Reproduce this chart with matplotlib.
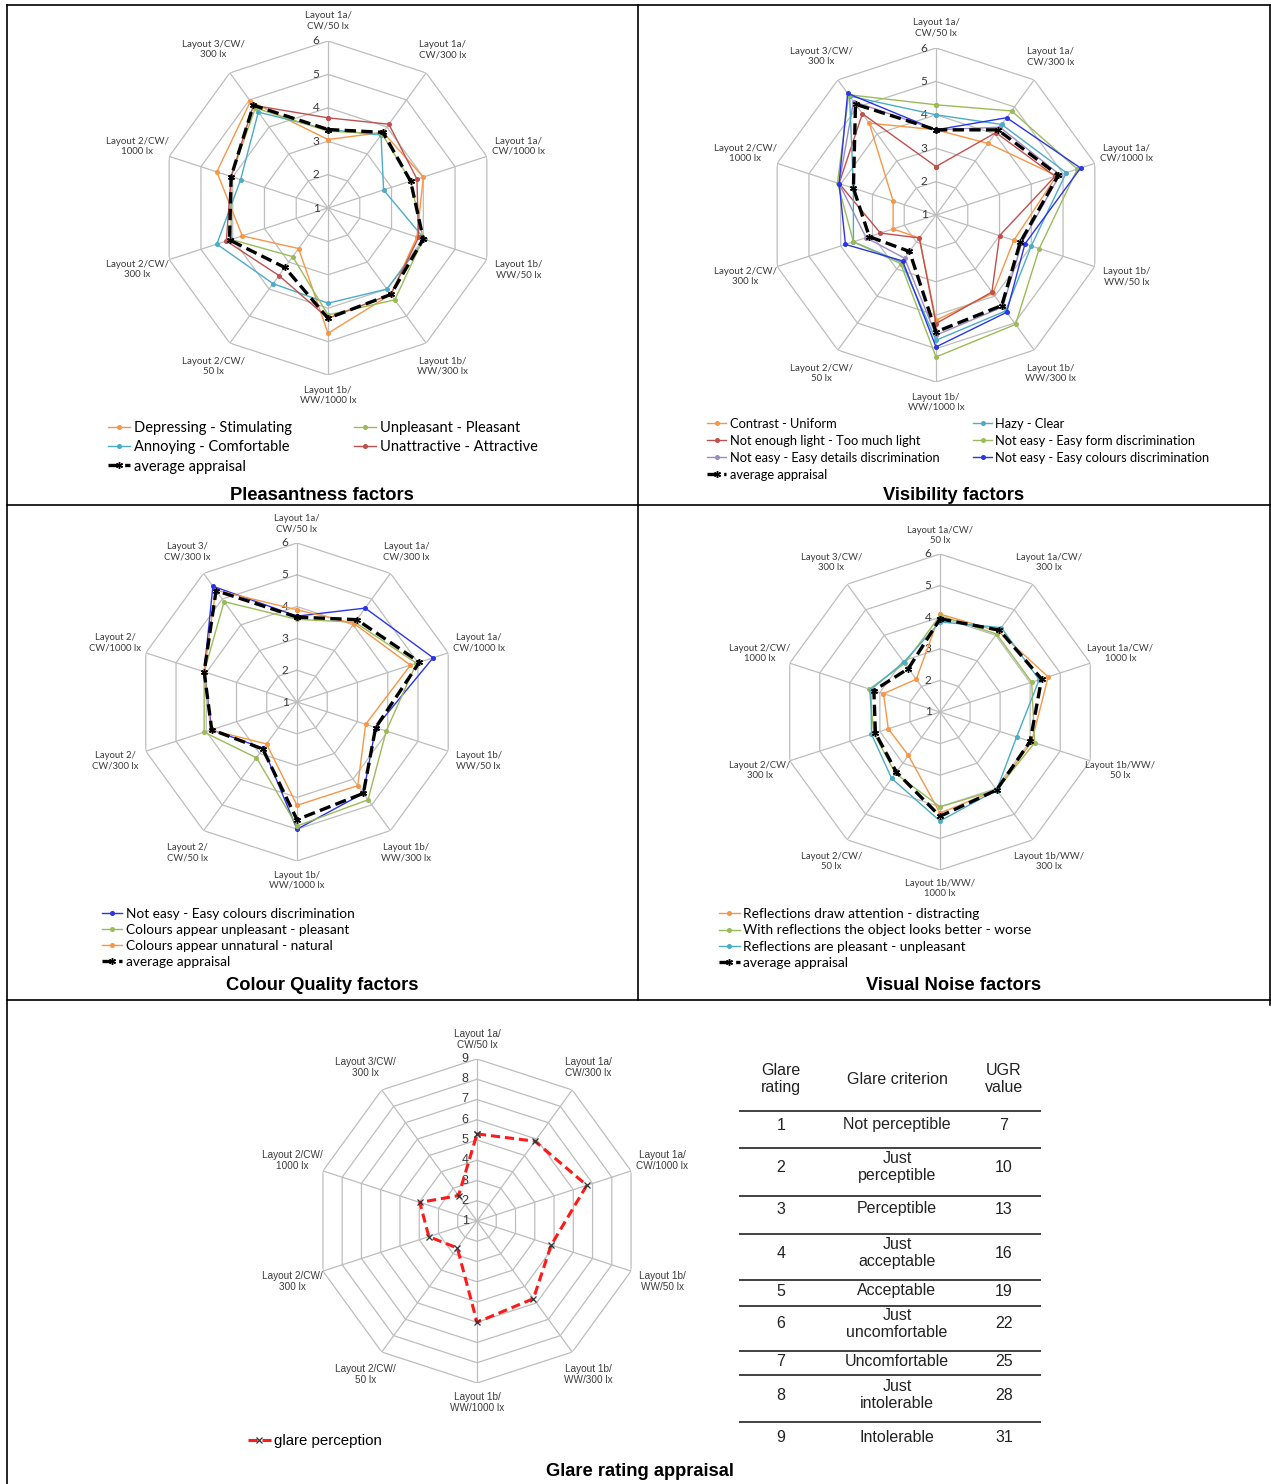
#!/usr/bin/env python3
"""Radar charts of subjective lighting appraisals plus the glare rating scale."""

import matplotlib
matplotlib.use('Agg')
import matplotlib.pyplot as plt
import numpy as np

W, H = 1271, 1484

# Lighting scenes, clockwise from the top of each radar
SCENES = ['Layout 1a/\nCW/50 lx', 'Layout 1a/\nCW/300 lx', 'Layout 1a/\nCW/1000 lx',
          'Layout 1b/\nWW/50 lx', 'Layout 1b/\nWW/300 lx', 'Layout 1b/\nWW/1000 lx',
          'Layout 2/CW/\n50 lx', 'Layout 2/CW/\n300 lx', 'Layout 2/CW/\n1000 lx',
          'Layout 3/CW/\n300 lx']
SCENES_CQ = ['Layout 1a/\nCW/50 lx', 'Layout 1a/\nCW/300 lx', 'Layout 1a/\nCW/1000 lx',
             'Layout 1b/\nWW/50 lx', 'Layout 1b/\nWW/300 lx', 'Layout 1b/\nWW/1000 lx',
             'Layout 2/\nCW/50 lx', 'Layout 2/\nCW/300 lx', 'Layout 2/\nCW/1000 lx',
             'Layout 3/\nCW/300 lx']
SCENES_VN = ['Layout 1a/CW/\n50 lx', 'Layout 1a/CW/\n300 lx', 'Layout 1a/CW/\n1000 lx',
             'Layout 1b/WW/\n50 lx', 'Layout 1b/WW/\n300 lx', 'Layout 1b/WW/\n1000 lx',
             'Layout 2/CW/\n50 lx', 'Layout 2/CW/\n300 lx', 'Layout 2/CW/\n1000 lx',
             'Layout 3/CW/\n300 lx']

# Pleasantness factors
pleas_stimulating = [3.05, 3.8, 4.0, 3.8, 4.2, 4.75, 2.5, 3.7, 4.5, 4.95]
pleas_comfortable = [3.35, 3.7, 2.75, 4.05, 4.0, 3.85, 3.8, 4.5, 3.75, 4.55]
pleas_pleasant = [3.3, 3.75, 3.6, 4.0, 4.4, 4.2, 2.8, 4.05, 4.05, 4.7]
pleas_attractive = [3.7, 4.1, 3.8, 3.85, 4.2, 4.3, 3.5, 4.2, 4.05, 4.8]
pleas_average = [3.35, 3.8, 3.6, 4.0, 4.2, 4.3, 3.2, 4.1, 4.05, 4.8]

# Visibility factors
vis_uniform = [3.55, 3.65, 4.8, 3.45, 3.9, 4.15, 1.85, 2.35, 2.35, 4.4]
vis_light = [2.45, 4.05, 4.75, 3.0, 3.85, 4.25, 1.85, 2.75, 4.05, 4.75]
vis_details = [3.55, 4.25, 4.9, 3.7, 4.4, 4.6, 2.6, 3.2, 4.05, 5.2]
vis_clear = [4.0, 4.35, 5.1, 4.0, 4.55, 4.75, 2.75, 3.6, 3.6, 5.4]
vis_form = [4.3, 4.85, 5.45, 4.25, 5.05, 5.25, 2.8, 3.6, 4.1, 5.45]
vis_colours = [3.55, 4.6, 5.55, 3.8, 4.6, 4.95, 2.7, 3.85, 4.05, 5.5]
vis_average = [3.55, 4.15, 4.85, 3.65, 4.35, 4.5, 2.35, 3.1, 3.6, 5.1]

# Colour quality factors
cq_colours = [3.7, 4.65, 5.5, 3.6, 4.55, 5.0, 2.8, 3.82, 4.07, 5.5]
cq_pleasant = [3.6, 4.1, 4.95, 3.95, 4.8, 4.9, 3.17, 4.07, 4.07, 4.9]
cq_natural = [3.9, 4.05, 4.75, 3.27, 4.25, 4.25, 2.63, 3.85, 4.07, 5.35]
cq_average = [3.67, 4.2, 5.05, 3.6, 4.55, 4.7, 2.83, 3.82, 4.07, 5.33]

# Visual noise factors
vn_distracting = [4.1, 4.15, 4.6, 4.05, 4.05, 4.2, 2.7, 2.72, 2.88, 2.28]
vn_worse = [4.05, 4.05, 4.05, 4.15, 4.05, 4.0, 3.4, 3.2, 3.35, 2.9]
vn_unpleasant = [3.85, 4.3, 4.3, 3.55, 4.05, 4.45, 3.6, 3.28, 3.3, 2.95]
vn_average = [3.95, 4.2, 4.38, 4.0, 4.05, 4.3, 3.35, 3.15, 3.2, 2.7]

# Glare perception (1-9 scale)
glare_perception = [5.3, 5.87, 6.7, 4.85, 5.74, 6.0, 2.65, 3.5, 3.97, 2.55]

# Glare rating scale
glare_rating = [1, 2, 3, 4, 5, 6, 7, 8, 9]
glare_criterion = ['Not perceptible', 'Just\nperceptible', 'Perceptible',
                   'Just\nacceptable', 'Acceptable', 'Just\nuncomfortable',
                   'Uncomfortable', 'Just\nintolerable', 'Intolerable']
ugr_value = [7, 10, 13, 16, 19, 22, 25, 28, 31]

ORANGE = '#F79646'
RED = '#C0504D'
GREEN = '#9BBB59'
CYAN = '#4BACC6'
PURPLE = '#9D8BC4'
BLUE = '#2B35E6'
GRID = '#BDBDBD'
TEXT = '#3A3A3A'
XL_FONT = ['Lato', 'DejaVu Sans']
AR_FONT = ['Liberation Sans', 'DejaVu Sans']

fig = plt.figure(figsize=(W / 100, H / 100), dpi=100)

canvas = fig.add_axes([0, 0, 1, 1])
canvas.set_xlim(0, W)
canvas.set_ylim(H, 0)
canvas.axis('off')


def radar(cx, cy, radius, labels, rmax, font, label_size, tick_size):
    """Polar axes with a decagon grid centred at pixel (cx, cy)."""
    rect = [(cx - radius) / W, 1 - (cy + radius) / H, 2 * radius / W, 2 * radius / H]
    ax = fig.add_axes(rect, projection='polar')
    n = len(labels)
    theta = np.linspace(0, 2 * np.pi, n, endpoint=False)
    ax.set_theta_zero_location('N')
    ax.set_theta_direction(-1)
    ax.set_ylim(1, rmax)
    ax.grid(False)
    ax.set_xticks([])
    ax.set_yticks([])
    ax.spines['polar'].set_visible(False)
    ax.patch.set_visible(False)

    closed = np.append(theta, theta[0])
    for v in range(2, rmax + 1):
        ax.plot(closed, [v] * (n + 1), color=GRID, lw=0.9, zorder=1)
    for t in theta:
        ax.plot([t, t], [1, rmax], color=GRID, lw=0.9, zorder=1)

    for v in range(1, rmax + 1):
        ax.annotate(str(v), xy=(0, v), xytext=(-6, 0), textcoords='offset points',
                    ha='right', va='center', fontsize=tick_size, color=TEXT,
                    family=font, zorder=2)

    span = rmax - 1
    for t, lab in zip(theta, labels):
        frac = 1.12 + 0.085 * abs(np.sin(t))
        ax.text(t, 1 + span * frac, lab, ha='center', va='center',
                fontsize=label_size, color=TEXT, family=font, linespacing=1.15)
    ax._theta = closed
    return ax


def series(ax, values, color, label):
    v = list(values) + [values[0]]
    ln, = ax.plot(ax._theta, v, color=color, lw=1.0, marker='o', ms=2.6,
                  zorder=3, label=label)
    return ln


def average(ax, values, label='average appraisal'):
    v = list(values) + [values[0]]
    ln, = ax.plot(ax._theta, v, color='black', lw=2.4, dashes=(3.4, 1.6),
                  marker=(6, 2, 0), ms=5, mew=1.0, zorder=4, label=label)
    return ln


def legend(ax, handles, x, y, size, ncol=1, colsp=2.0, rowsp=0.3, font=XL_FONT):
    ax.legend(handles=handles, loc='upper left', ncol=ncol,
              bbox_to_anchor=(x / W, 1 - y / H), bbox_transform=fig.transFigure,
              frameon=False, handlelength=1.5, handletextpad=0.25,
              labelspacing=rowsp, columnspacing=colsp, borderpad=0,
              borderaxespad=0, prop={'family': font, 'size': size})


# Pleasantness factors
ax1 = radar(328, 208, 167, SCENES, 6, XL_FONT, 7.0, 8.5)
h_st = series(ax1, pleas_stimulating, ORANGE, 'Depressing - Stimulating')
h_co = series(ax1, pleas_comfortable, CYAN, 'Annoying - Comfortable')
h_pl = series(ax1, pleas_pleasant, GREEN, 'Unpleasant - Pleasant')
h_at = series(ax1, pleas_attractive, RED, 'Unattractive - Attractive')
h_av = average(ax1, pleas_average)
legend(ax1, [h_st, h_co, h_av, h_pl, h_at], 108, 421, 10.5, ncol=2, colsp=4.3, rowsp=0.36)

# Visibility factors
ax2 = radar(936, 215, 167, SCENES, 6, XL_FONT, 7.0, 8.5)
h_un = series(ax2, vis_uniform, ORANGE, 'Contrast - Uniform')
h_li = series(ax2, vis_light, RED, 'Not enough light - Too much light')
h_de = series(ax2, vis_details, PURPLE, 'Not easy - Easy details discrimination')
h_cl = series(ax2, vis_clear, CYAN, 'Hazy - Clear')
h_fo = series(ax2, vis_form, GREEN, 'Not easy - Easy form discrimination')
h_cs = series(ax2, vis_colours, BLUE, 'Not easy - Easy colours discrimination')
h_av2 = average(ax2, vis_average)
legend(ax2, [h_un, h_li, h_de, h_av2, h_cl, h_fo, h_cs], 707, 418, 9.3, ncol=2,
       colsp=2.6, rowsp=0.38)

# Colour quality factors
ax3 = radar(297, 702, 159, SCENES_CQ, 6, XL_FONT, 6.8, 8.5)
h_c1 = series(ax3, cq_colours, BLUE, 'Not easy - Easy colours discrimination')
h_c2 = series(ax3, cq_pleasant, GREEN, 'Colours appear unpleasant - pleasant')
h_c3 = series(ax3, cq_natural, ORANGE, 'Colours appear unnatural - natural')
h_c4 = average(ax3, cq_average)
legend(ax3, [h_c1, h_c2, h_c3, h_c4], 102, 908, 9.8, rowsp=0.3)

# Visual noise factors
ax4 = radar(940, 712, 158, SCENES_VN, 6, XL_FONT, 6.8, 8.5)
h_n1 = series(ax4, vn_distracting, ORANGE, 'Reflections draw attention - distracting')
h_n2 = series(ax4, vn_worse, GREEN, 'With reflections the object looks better - worse')
h_n3 = series(ax4, vn_unpleasant, CYAN, 'Reflections are pleasant - unpleasant')
h_n4 = average(ax4, vn_average)
legend(ax4, [h_n1, h_n2, h_n3, h_n4], 719, 908, 9.9, rowsp=0.32)

# Glare rating appraisal
ax5 = radar(477, 1221, 162, SCENES, 9, AR_FONT, 7.2, 9)
g = list(glare_perception) + [glare_perception[0]]
h_g, = ax5.plot(ax5._theta, g, color='#FF1A1A', lw=2.2, dashes=(3.0, 1.6),
                marker='x', ms=4.5, mec='#333333', mew=0.9, zorder=4,
                label='glare perception')
legend(ax5, [h_g], 248, 1434, 10.8, font=AR_FONT)

# Panel frame
frame_kw = dict(color='black', lw=1.2, zorder=0)
canvas.plot([7, 1270], [5, 5], **frame_kw)
canvas.plot([7, 7], [5, 1484], **frame_kw)
canvas.plot([1270, 1270], [5, 1005], **frame_kw)
canvas.plot([638, 638], [5, 1000], **frame_kw)
canvas.plot([7, 1270], [505, 505], **frame_kw)
canvas.plot([7, 1270], [1000, 1000], **frame_kw)

title_kw = dict(ha='center', va='center', fontsize=13.2, fontweight='bold',
                family=AR_FONT, color='black')
canvas.text(322, 495, 'Pleasantness factors', **title_kw)
canvas.text(954, 495, 'Visibility factors', **title_kw)
canvas.text(322, 985, 'Colour Quality factors', **title_kw)
canvas.text(954, 985, 'Visual Noise factors', **title_kw)
canvas.text(640, 1471, 'Glare rating appraisal', **title_kw)

# Glare rating table
col_x = [781, 897, 1004]
tbl_kw = dict(ha='center', va='center', fontsize=11.5, family=AR_FONT,
              color='#222222', linespacing=1.2)
canvas.text(col_x[0], 1079, 'Glare\nrating', **tbl_kw)
canvas.text(col_x[1], 1079, 'Glare criterion', **tbl_kw)
canvas.text(col_x[2], 1079, 'UGR\nvalue', **tbl_kw)
row_y = [1125, 1167, 1209, 1253, 1291, 1324, 1362, 1395, 1437]
rule_y = [1111, 1148, 1196, 1234, 1280, 1306, 1351, 1375, 1422]
canvas.hlines(rule_y, 739, 1041, color='#333333', lw=1.3)
for y, r, c, u in zip(row_y, glare_rating, glare_criterion, ugr_value):
    canvas.text(col_x[0], y, str(r), **tbl_kw)
    canvas.text(col_x[1], y, c, **tbl_kw)
    canvas.text(col_x[2], y, str(u), **tbl_kw)

fig.savefig('out.png', dpi=100)
